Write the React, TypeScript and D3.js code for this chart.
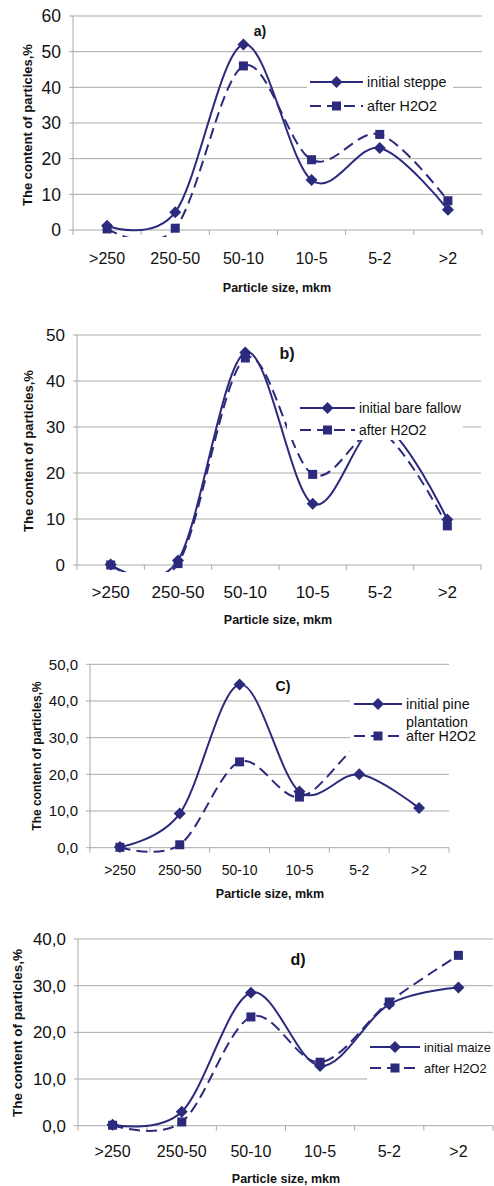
import React from "react";
import * as d3 from "d3";

const categories = [">250", "250-50", "50-10", "10-5", "5-2", ">2"];

const steppeInitial = [1.2, 5.0, 52.0, 14.0, 23.0, 5.7];
const steppeAfter = [0.3, 0.5, 46.0, 19.7, 26.8, 8.2];

const fallowInitial = [0.1, 1.0, 46.2, 13.3, 30.5, 9.9];
const fallowAfter = [0.0, 0.3, 45.0, 19.7, 29.0, 8.5];

const pineInitial = [0.2, 9.3, 44.5, 15.3, 20.0, 10.8];
const pineAfter = [0.1, 0.8, 23.4, 13.8, 28.0, 33.0];

const maizeInitial = [0.2, 3.0, 28.5, 12.8, 26.0, 29.6];
const maizeAfter = [0.1, 0.8, 23.3, 13.6, 26.5, 36.5];

const ticksA = [0, 10, 20, 30, 40, 50, 60];
const ticksB = [0, 10, 20, 30, 40, 50];
const ticksC = [0, 10, 20, 30, 40, 50];
const ticksD = [0, 10, 20, 30, 40];

const NAVY = "#2b2a7c";
const GRID = "#a9a9a9";
const FONT = "'Liberation Sans', Arial, sans-serif";

type Panel = {
  id: string;
  initial: number[];
  after: number[];
  ticks: number[];
  decimals: boolean;
  legendLines: string[];
  letter: string;
  x0: number; x1: number; yTop: number; yBot: number;
  tickFont: number; ytickFont: number; catY: number;
  xTitle: [number, number]; yTitle: [number, number]; titleFont: number;
  letterPos: [number, number]; letterFont: number;
  box: [number, number, number, number];
  legX: [number, number]; legY: [number, number]; legText: number[]; legFont: number;
};

const panels: Panel[] = [
  {
    id: "a", initial: steppeInitial, after: steppeAfter, ticks: ticksA, decimals: false,
    legendLines: ["initial steppe", "after H2O2"], letter: "a)",
    x0: 73, x1: 482, yTop: 16, yBot: 230,
    tickFont: 16, ytickFont: 17.5, catY: 264,
    xTitle: [277, 292], yTitle: [27, 125], titleFont: 13,
    letterPos: [260, 36], letterFont: 14,
    box: [307, 70, 146, 48],
    legX: [310, 363], legY: [82, 106], legText: [82, 106], legFont: 14.3,
  },
  {
    id: "b", initial: fallowInitial, after: fallowAfter, ticks: ticksB, decimals: false,
    legendLines: ["initial bare fallow", "after H2O2"], letter: "b)",
    x0: 77, x1: 481, yTop: 335, yBot: 565,
    tickFont: 17, ytickFont: 17, catY: 598,
    xTitle: [278, 624], yTitle: [28, 451], titleFont: 13,
    letterPos: [287, 359], letterFont: 16,
    box: [287, 385, 176, 55],
    legX: [300, 355], legY: [408, 430], legText: [408, 430], legFont: 13.8,
  },
  {
    id: "c", initial: pineInitial, after: pineAfter, ticks: ticksC, decimals: true,
    legendLines: ["initial pine", "plantation", "after H2O2"], letter: "C)",
    x0: 90, x1: 449, yTop: 664.3, yBot: 847.7,
    tickFont: 14, ytickFont: 15, catY: 875,
    xTitle: [270, 898], yTitle: [37, 756], titleFont: 12,
    letterPos: [283, 691], letterFont: 14,
    box: [350, 697, 130, 60],
    legX: [354, 402], legY: [704, 736], legText: [704, 722, 736], legFont: 14.3,
  },
  {
    id: "d", initial: maizeInitial, after: maizeAfter, ticks: ticksD, decimals: true,
    legendLines: ["initial maize", "after H2O2"], letter: "d)",
    x0: 78, x1: 493, yTop: 939, yBot: 1125.7,
    tickFont: 16, ytickFont: 17, catY: 1157,
    xTitle: [286, 1183], yTitle: [17, 1033], titleFont: 13.5,
    letterPos: [298, 965], letterFont: 16,
    box: [367, 1036, 140, 46],
    legX: [370, 420], legY: [1047, 1068], legText: [1047, 1068], legFont: 12.8,
  },
];

const diamond = (cx: number, cy: number, r: number) =>
  `M${cx},${cy - r}L${cx + r},${cy}L${cx},${cy + r}L${cx - r},${cy}Z`;

function ChartPanel({ p }: { p: Panel }) {
  const x = d3.scalePoint<string>().domain(categories).range([p.x0, p.x1]).padding(0.5);
  const maxT = p.ticks[p.ticks.length - 1];
  const y = d3.scaleLinear().domain([0, maxT]).range([p.yBot, p.yTop]);
  const line = d3
    .line<number>()
    .x((_, i) => x(categories[i]) as number)
    .y((v) => y(v))
    .curve(d3.curveCardinal.tension(0));
  const step = (p.x1 - p.x0) / categories.length;
  const bounds = d3.range(categories.length + 1).map((i) => p.x0 + i * step);
  const fmt = (t: number) => (p.decimals ? t.toFixed(1).replace(".", ",") : String(t));
  const clipId = `clip-${p.id}`;
  return (
    <g>
      <defs>
        <clipPath id={clipId}>
          <rect x={p.x0 - 20} y={p.yTop - 10} width={p.x1 - p.x0 + 40} height={p.yBot - p.yTop + 17} />
        </clipPath>
      </defs>
      {p.ticks.map((t) => (
        <g key={t}>
          <line x1={p.x0 - 4} x2={p.x1} y1={y(t)} y2={y(t)} stroke={GRID} strokeWidth={1} />
          <text x={p.x0 - 12} y={y(t)} dy="0.36em" textAnchor="end" fontSize={p.ytickFont} fill="#111" fontFamily={FONT}>
            {fmt(t)}
          </text>
        </g>
      ))}
      <line x1={p.x0} x2={p.x0} y1={p.yTop} y2={p.yBot} stroke={GRID} strokeWidth={1} />
      {bounds.map((b, i) => (
        <line key={i} x1={b} x2={b} y1={p.yBot} y2={p.yBot + 5} stroke={GRID} strokeWidth={1} />
      ))}
      {categories.map((c) => (
        <text key={c} x={x(c)} y={p.catY} textAnchor="middle" fontSize={p.tickFont} fill="#111" fontFamily={FONT}>
          {c}
        </text>
      ))}
      <g clipPath={`url(#${clipId})`}>
        <path d={line(p.after) || ""} fill="none" stroke={NAVY} strokeWidth={2} strokeDasharray="11,6" />
        <path d={line(p.initial) || ""} fill="none" stroke={NAVY} strokeWidth={2} />
        {p.after.map((v, i) => (
          <rect key={"s" + i} x={(x(categories[i]) as number) - 4.5} y={y(v) - 4.5} width={9} height={9} fill={NAVY} />
        ))}
        {p.initial.map((v, i) => (
          <path key={"d" + i} d={diamond(x(categories[i]) as number, y(v), 6)} fill={NAVY} />
        ))}
      </g>
      <text x={p.letterPos[0]} y={p.letterPos[1]} textAnchor="middle" fontSize={p.letterFont} fontWeight="bold" fill="#111" fontFamily={FONT}>
        {p.letter}
      </text>
      <rect x={p.box[0]} y={p.box[1]} width={p.box[2]} height={p.box[3]} fill="#fff" />
      <line x1={p.legX[0]} x2={p.legX[1]} y1={p.legY[0]} y2={p.legY[0]} stroke={NAVY} strokeWidth={2} />
      <path d={diamond((p.legX[0] + p.legX[1]) / 2, p.legY[0], 6)} fill={NAVY} />
      <line x1={p.legX[0]} x2={p.legX[1]} y1={p.legY[1]} y2={p.legY[1]} stroke={NAVY} strokeWidth={2} strokeDasharray="11,6" />
      <rect x={(p.legX[0] + p.legX[1]) / 2 - 4.5} y={p.legY[1] - 4.5} width={9} height={9} fill={NAVY} />
      {p.legendLines.map((t, i) => (
        <text key={t} x={p.legX[1] + 4} y={p.legText[i]} dy="0.36em" fontSize={p.legFont} fill="#111" fontFamily={FONT}>
          {t}
        </text>
      ))}
      <text x={p.xTitle[0]} y={p.xTitle[1]} textAnchor="middle" fontSize={12.5} fontWeight="bold" fill="#111" fontFamily={FONT}>
        Particle size, mkm
      </text>
      <text
        transform={`translate(${p.yTitle[0]},${p.yTitle[1]}) rotate(-90)`}
        textAnchor="middle"
        dy="0.36em"
        fontSize={p.titleFont}
        fontWeight="bold"
        fill="#111"
        fontFamily={FONT}
      >
        The content of particles,%
      </text>
    </g>
  );
}

export default function App() {
  return (
    <svg
      width={494}
      height={1186}
      style={{ position: "absolute", left: 0, top: 0, background: "#fff" }}
    >
      <rect width={494} height={1186} fill="#fff" />
      {panels.map((p) => (
        <ChartPanel key={p.id} p={p} />
      ))}
    </svg>
  );
}
